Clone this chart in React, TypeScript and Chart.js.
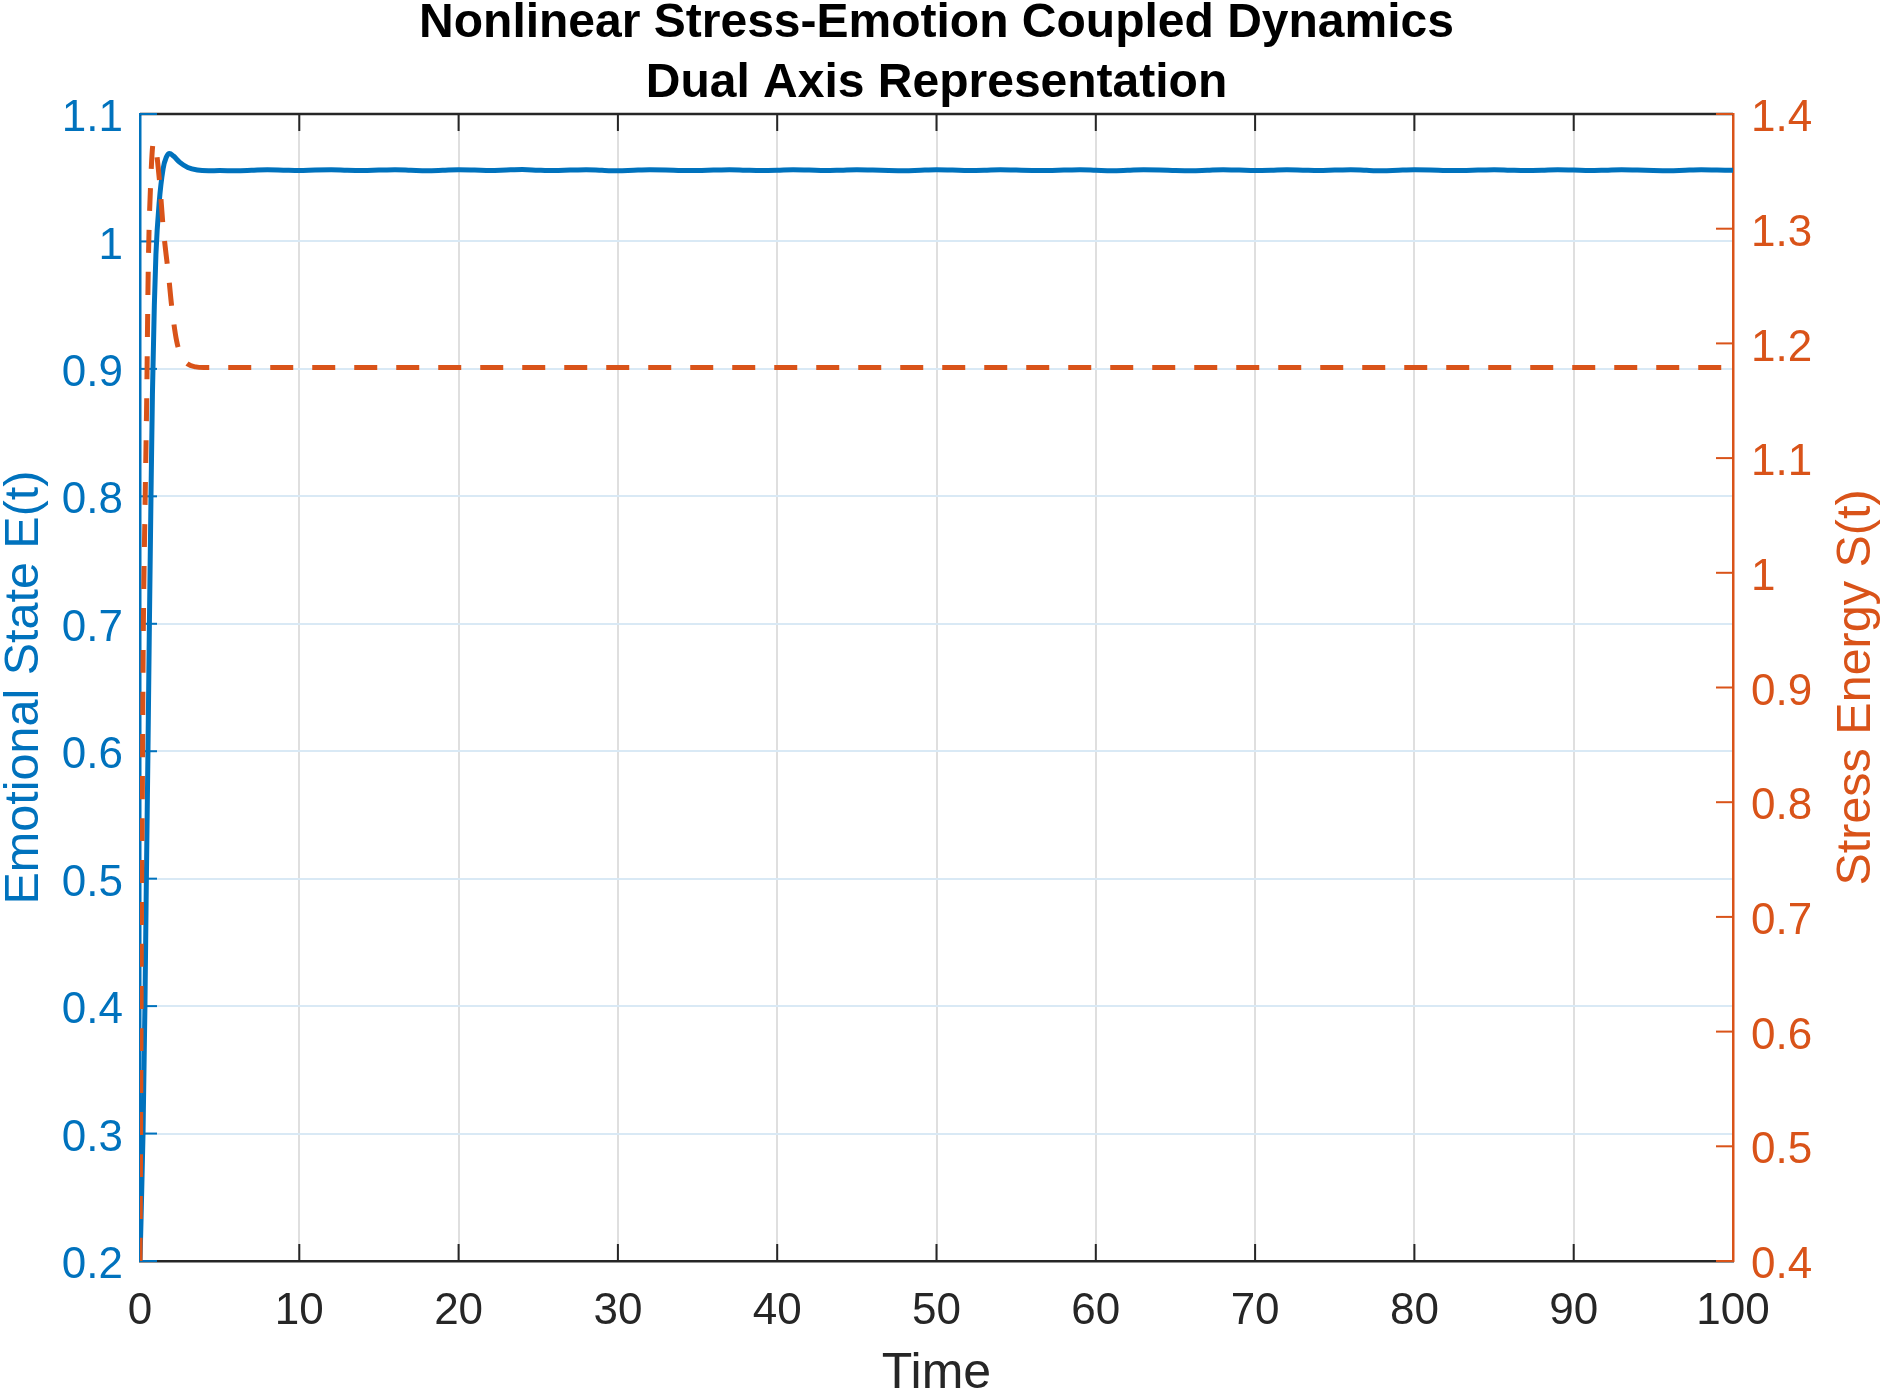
import { useEffect, useRef } from "react";
import { Chart, registerables } from "chart.js";

Chart.register(...registerables);

const TITLE_LINES = ["Nonlinear Stress-Emotion Coupled Dynamics", "Dual Axis Representation"];
const X_LABEL = "Time";
const LEFT_LABEL = "Emotional State E(t)";
const RIGHT_LABEL = "Stress Energy S(t)";

// E(t): fast rise, small overshoot, then a flat line with a tiny ripple
const emotionTime = [
  0, 0.19, 0.31, 0.4, 0.5, 0.59, 0.69, 0.78, 0.9, 1.0, 1.2, 1.45, 1.65, 1.85, 2.1, 2.5, 3.0, 3.6, 4.3,
  5, 6, 7, 8, 9, 10, 11, 12, 13, 14, 15, 16, 17, 18, 19, 20, 21, 22, 23, 24,
  25, 26, 27, 28, 29, 30, 31, 32, 33, 34, 35, 36, 37, 38, 39, 40, 41, 42, 43, 44,
  45, 46, 47, 48, 49, 50, 51, 52, 53, 54, 55, 56, 57, 58, 59, 60, 61, 62, 63, 64,
  65, 66, 67, 68, 69, 70, 71, 72, 73, 74, 75, 76, 77, 78, 79, 80, 81, 82, 83, 84,
  85, 86, 87, 88, 89, 90, 91, 92, 93, 94, 95, 96, 97, 98, 99, 100,
];
const emotionValues = [
  0.2, 0.3, 0.4, 0.5, 0.6, 0.7, 0.8, 0.88, 0.95, 0.99, 1.03, 1.057, 1.066, 1.069, 1.067, 1.062, 1.058, 1.056, 1.0555,
  1.0556, 1.0555, 1.0558, 1.0562, 1.0559, 1.0556, 1.0561, 1.0563, 1.0558, 1.0556,
  1.056, 1.0563, 1.0559, 1.0555, 1.0558, 1.0562, 1.056, 1.0557, 1.0561, 1.0564,
  1.0559, 1.0556, 1.056, 1.0563, 1.0558, 1.0555, 1.0559, 1.0562, 1.0561, 1.0557,
  1.0556, 1.056, 1.0563, 1.0559, 1.0556, 1.0558, 1.0562, 1.056, 1.0556, 1.0559,
  1.0563, 1.0561, 1.0557, 1.0555, 1.0559, 1.0562, 1.056, 1.0556, 1.0558, 1.0563,
  1.056, 1.0557, 1.0556, 1.056, 1.0563, 1.0559, 1.0555, 1.0558, 1.0562, 1.0561,
  1.0557, 1.0555, 1.0559, 1.0563, 1.056, 1.0556, 1.0558, 1.0562, 1.0559, 1.0556,
  1.056, 1.0563, 1.0558, 1.0555, 1.0559, 1.0562, 1.0561, 1.0557, 1.0556, 1.056,
  1.0563, 1.0559, 1.0556, 1.0558, 1.0562, 1.056, 1.0556, 1.0559, 1.0563, 1.0561,
  1.0557, 1.0555, 1.0559, 1.0562, 1.056, 1.0558,
];

// S(t): steep spike to ~1.375, then decay to a constant level
const stressTime = [
  0, 0.05, 0.09, 0.14, 0.2, 0.31, 0.42, 0.52, 0.67, 0.84, 1.0, 1.13, 1.26, 1.43, 1.6, 1.78, 2.0, 2.3, 2.6, 3.0,
  3.5, 4, 10, 20, 30, 40, 50, 60, 70, 80, 90, 100,
];
const stressValues = [
  0.4, 0.55, 0.7, 0.79, 0.936, 1.052, 1.15, 1.266, 1.34, 1.375, 1.37, 1.355, 1.336, 1.305, 1.282, 1.261, 1.231, 1.202, 1.189, 1.182,
  1.1795, 1.179, 1.179, 1.179, 1.179, 1.179, 1.179, 1.179, 1.179, 1.179, 1.179, 1.179,
];

const BLUE = "#0072BD";
const ORANGE = "#D95319";
const DARK = "#262626";
const FONT = "'Liberation Sans', Arial, Helvetica, sans-serif";

const fmt = (v: number | string) => String(Number(Number(v).toFixed(2)));

const decorations = {
  id: "decorations",
  beforeDatasetsDraw(chart: any) {
    const { ctx, chartArea, scales } = chart;
    const { left, right, top, bottom } = chartArea;
    const len = 17;
    ctx.save();
    ctx.lineCap = "butt";

    ctx.strokeStyle = DARK;
    ctx.lineWidth = 2.5;
    ctx.beginPath();
    ctx.moveTo(left, top);
    ctx.lineTo(right, top);
    ctx.stroke();

    ctx.lineWidth = 2;
    scales.x.ticks.forEach((t: any) => {
      const px = scales.x.getPixelForValue(t.value);
      if (px <= left + 1 || px >= right - 1) return;
      ctx.beginPath();
      ctx.moveTo(px, bottom);
      ctx.lineTo(px, bottom - len);
      ctx.moveTo(px, top);
      ctx.lineTo(px, top + len);
      ctx.stroke();
    });

    ctx.strokeStyle = BLUE;
    scales.yE.ticks.forEach((t: any) => {
      const py = scales.yE.getPixelForValue(t.value);
      ctx.beginPath();
      ctx.moveTo(left, py);
      ctx.lineTo(left + len, py);
      ctx.stroke();
    });

    ctx.strokeStyle = ORANGE;
    scales.yS.ticks.forEach((t: any) => {
      const py = scales.yS.getPixelForValue(t.value);
      ctx.beginPath();
      ctx.moveTo(right, py);
      ctx.lineTo(right - len, py);
      ctx.stroke();
    });
    ctx.restore();
  },
  afterDraw(chart: any) {
    const { ctx, chartArea } = chart;
    const midX = (chartArea.left + chartArea.right) / 2;
    ctx.save();
    ctx.fillStyle = "#000";
    ctx.font = `bold 48px ${FONT}`;
    ctx.textAlign = "center";
    ctx.textBaseline = "alphabetic";
    ctx.fillText(TITLE_LINES[0], midX, 37);
    ctx.fillText(TITLE_LINES[1], midX, 97);

    // right label reads bottom-to-top, like the left one
    ctx.fillStyle = ORANGE;
    ctx.font = `48.5px ${FONT}`;
    ctx.textBaseline = "middle";
    ctx.translate(chart.width - 31, (chartArea.top + chartArea.bottom) / 2);
    ctx.rotate(-Math.PI / 2);
    ctx.fillText(RIGHT_LABEL, 0, 0);
    ctx.restore();
  },
};

function DualAxisChart() {
  const canvasRef = useRef<HTMLCanvasElement>(null);
  const chartRef = useRef<Chart | null>(null);

  useEffect(() => {
    if (!canvasRef.current) return;
    if (chartRef.current) chartRef.current.destroy();

    chartRef.current = new Chart(canvasRef.current, {
      type: "line",
      data: {
        datasets: [
          {
            label: LEFT_LABEL,
            data: emotionTime.map((t, i) => ({ x: t, y: emotionValues[i] })),
            yAxisID: "yE",
            borderColor: BLUE,
            borderWidth: 5,
            pointRadius: 0,
            cubicInterpolationMode: "monotone",
            borderJoinStyle: "round",
            order: 1,
          },
          {
            label: RIGHT_LABEL,
            data: stressTime.map((t, i) => ({ x: t, y: stressValues[i] })),
            yAxisID: "yS",
            borderColor: ORANGE,
            borderWidth: 5,
            borderDash: [23, 19],
            pointRadius: 0,
            cubicInterpolationMode: "monotone",
            order: 0,
          },
        ],
      },
      options: {
        responsive: false,
        animation: false,
        devicePixelRatio: 1,
        layout: { padding: { top: 114, left: 0, right: 0, bottom: 0 } },
        plugins: {
          legend: { display: false },
          tooltip: { enabled: false },
        },
        scales: {
          x: {
            type: "linear",
            min: 0,
            max: 100,
            afterFit: (scale: any) => {
              scale.height = 131;
            },
            ticks: {
              stepSize: 10,
              padding: 24,
              color: DARK,
              font: { family: FONT, size: 44 },
              callback: fmt,
            },
            grid: { color: "#dfdfdf", lineWidth: 2, drawTicks: false, z: -1 },
            border: { color: DARK, width: 2.5 },
            title: {
              display: true,
              text: X_LABEL,
              color: DARK,
              font: { family: FONT, size: 50, lineHeight: 0.72 },
              padding: 0,
            },
          },
          yE: {
            type: "linear",
            position: "left",
            min: 0.2,
            max: 1.1,
            afterFit: (scale: any) => {
              scale.width = 140;
            },
            ticks: {
              stepSize: 0.1,
              padding: 17,
              labelOffset: 5,
              color: BLUE,
              font: { family: FONT, size: 44 },
              callback: fmt,
            },
            grid: { color: "#d9e9f5", lineWidth: 2, drawTicks: false, z: -1 },
            border: { color: BLUE, width: 2.5 },
            title: {
              display: true,
              text: LEFT_LABEL,
              color: BLUE,
              font: { family: FONT, size: 48.5, lineHeight: 1.0 },
              padding: 0,
            },
          },
          yS: {
            type: "linear",
            position: "right",
            min: 0.4,
            max: 1.4,
            afterFit: (scale: any) => {
              scale.width = 155;
            },
            ticks: {
              stepSize: 0.1,
              padding: 18,
              labelOffset: 5,
              color: ORANGE,
              font: { family: FONT, size: 44 },
              callback: fmt,
            },
            grid: { display: false, drawTicks: false },
            border: { color: ORANGE, width: 2.5 },
          },
        },
      },
      plugins: [decorations],
    });

    return () => {
      if (chartRef.current) {
        chartRef.current.destroy();
        chartRef.current = null;
      }
    };
  }, []);

  return <canvas ref={canvasRef} width={1888} height={1392} style={{ display: "block" }} />;
}

export default function App() {
  useEffect(() => {
    document.body.style.margin = "0";
    document.body.style.overflow = "hidden";
    document.body.style.background = "#fff";
  }, []);

  return (
    <div style={{ width: 1888, height: 1392 }}>
      <DualAxisChart />
    </div>
  );
}
